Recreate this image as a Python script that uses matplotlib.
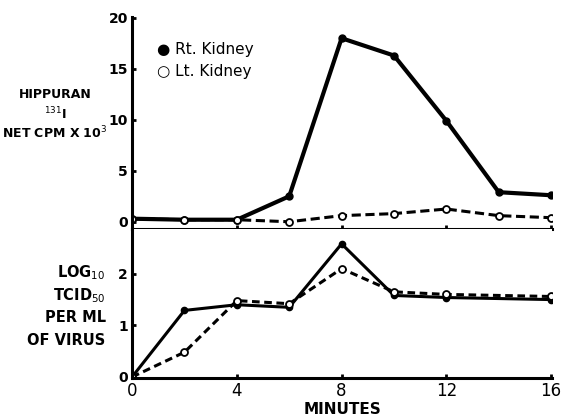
import matplotlib
matplotlib.use("Agg")
import matplotlib.pyplot as plt

minutes = [0, 2, 4, 6, 8, 10, 12, 14, 16]
hippuran_rt = [0.3, 0.2, 0.2, 2.5, 18.0, 16.3, 9.9, 2.9, 2.6]
hippuran_lt = [0.3, 0.2, 0.2, 0.0, 0.6, 0.8, 1.25, 0.6, 0.4]

virus_minutes = [0, 2, 4, 6, 8, 10, 12, 16]
virus_rt = [0.0, 1.29, 1.40, 1.35, 2.58, 1.58, 1.54, 1.50]
virus_lt = [0.0, 0.48, 1.48, 1.42, 2.10, 1.65, 1.60, 1.56]

x_ticks = [0, 4, 8, 12, 16]
top_yticks = [0, 5, 10, 15, 20]
bot_yticks = [0, 1, 2]

plt.rcParams['font.family'] = ['DejaVu Sans']
fig = plt.figure(figsize=(5.62, 4.2), dpi=100)
L, W = 0.235, 0.748
ax1 = fig.add_axes([L, 0.455, W, 0.505])
ax2 = fig.add_axes([L, 0.100, W, 0.355])

for ax in (ax1, ax2):
    for s in ('top', 'right'):
        ax.spines[s].set_visible(False)
    ax.spines['left'].set_linewidth(2.2)
    ax.spines['bottom'].set_linewidth(2.2)
    ax.set_xlim(0, 16.05)
    ax.set_xticks(x_ticks)
    ax.tick_params(axis='both', direction='in', length=3, width=2, labelsize=10, pad=3)

ax1.plot(minutes, hippuran_rt, '-', color='black', lw=3, marker='o', ms=5, mfc='black', mec='black')
ax1.plot(minutes, hippuran_lt, '--', color='black', lw=2.2, marker='o', ms=5, mfc='white', mec='black', mew=1.3, dashes=(3, 1.5))
ax1.set_ylim(-0.7, 20.1)
ax1.set_yticks(top_yticks)
ax1.set_yticklabels([str(v) for v in top_yticks], fontweight='bold')
ax1.set_xticklabels([])

ax2.plot(virus_minutes, virus_rt, '-', color='black', lw=2.2, marker='o', ms=4.5, mfc='black', mec='black')
ax2.plot(virus_minutes, virus_lt, '--', color='black', lw=2.2, marker='o', ms=5, mfc='white', mec='black', mew=1.3, dashes=(2.5, 1.5))
ax2.set_ylim(-0.02, 2.87)
ax2.set_yticks(bot_yticks)
ax2.set_yticklabels([str(v) for v in bot_yticks], fontweight='bold')
ax2.set_xticklabels([str(v) for v in x_ticks], fontsize=12)
ax2.set_xlabel('MINUTES', fontsize=11, fontweight='bold', labelpad=1)

# legend
fig.text(0.280, 0.883, '\u25cf Rt. Kidney', fontsize=11, ha='left', va='center')
fig.text(0.280, 0.830, '\u25cb Lt. Kidney', fontsize=11, ha='left', va='center')

# y labels
fig.text(0.098, 0.774, 'HIPPURAN', fontsize=9, fontweight='bold', ha='center', va='center')
fig.text(0.098, 0.728, '$^{131}$I', fontsize=9, fontweight='bold', ha='center', va='center')
fig.text(0.098, 0.684, 'NET CPM X 10$^3$', fontsize=9, fontweight='bold', ha='center', va='center')

fig.text(0.188, 0.352, 'LOG$_{10}$', fontsize=10.5, fontweight='bold', ha='right', va='center')
fig.text(0.188, 0.297, 'TCID$_{50}$', fontsize=10.5, fontweight='bold', ha='right', va='center')
fig.text(0.188, 0.243, 'PER ML', fontsize=10.5, fontweight='bold', ha='right', va='center')
fig.text(0.188, 0.190, 'OF VIRUS', fontsize=10.5, fontweight='bold', ha='right', va='center')

fig.savefig('out.png', dpi=100)
